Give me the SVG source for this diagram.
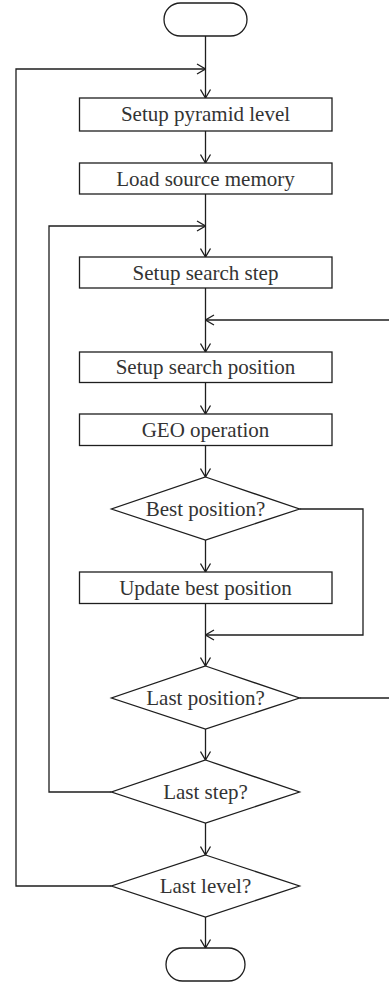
<svg xmlns="http://www.w3.org/2000/svg" width="389" height="984" viewBox="0 0 389 984">
  <style>
    .shape { fill: #fff; stroke: #1e1e1e; stroke-width: 1.3; }
    .wire { fill: none; stroke: #1e1e1e; stroke-width: 1.3; }
    .label { font-family: "Liberation Serif", "Times New Roman", serif; font-size: 21px; fill: #333; text-anchor: middle; }
  </style>
  <defs>
    <marker id="arrow" markerUnits="userSpaceOnUse" markerWidth="10" markerHeight="12" viewBox="0 0 10 12" refX="9.5" refY="6" orient="auto">
      <path d="M1,1 L9.5,6 L1,11" fill="none" stroke="#1e1e1e" stroke-width="1.3"/>
    </marker>
  </defs>
  <rect width="389" height="984" fill="#fff"/>

  <g id="connectors">
    <path class="wire" d="M205.5,36 V98" marker-end="url(#arrow)"/>
    <path class="wire" d="M111.5,886 H16 V69 H205.5" marker-end="url(#arrow)"/>
    <path class="wire" d="M205.5,131 V163" marker-end="url(#arrow)"/>
    <path class="wire" d="M205.5,194 V257" marker-end="url(#arrow)"/>
    <path class="wire" d="M111.5,792 H49 V226 H205.5" marker-end="url(#arrow)"/>
    <path class="wire" d="M205.5,288 V352" marker-end="url(#arrow)"/>
    <path class="wire" d="M390,320 H205.5" marker-end="url(#arrow)"/>
    <path class="wire" d="M299.5,698 H390"/>
    <path class="wire" d="M205.5,382 V414" marker-end="url(#arrow)"/>
    <path class="wire" d="M205.5,446 V477" marker-end="url(#arrow)"/>
    <path class="wire" d="M205.5,540 V572" marker-end="url(#arrow)"/>
    <path class="wire" d="M299.5,509 H363 V635 H205.5" marker-end="url(#arrow)"/>
    <path class="wire" d="M205.5,603 V666" marker-end="url(#arrow)"/>
    <path class="wire" d="M205.5,729 V760" marker-end="url(#arrow)"/>
    <path class="wire" d="M205.5,823 V855" marker-end="url(#arrow)"/>
    <path class="wire" d="M205.5,917 V948" marker-end="url(#arrow)"/>
  </g>

  <g id="start">
    <rect class="shape" x="164" y="3" width="83" height="33" rx="16.5"/>
  </g>
  <g id="setup-pyramid-level">
    <rect class="shape" x="79.5" y="98" width="252.5" height="33"/>
    <text class="label" x="205.5" y="121">Setup pyramid level</text>
  </g>
  <g id="load-source-memory">
    <rect class="shape" x="79.5" y="163" width="252.5" height="31"/>
    <text class="label" x="205.5" y="185.5">Load source memory</text>
  </g>
  <g id="setup-search-step">
    <rect class="shape" x="79.5" y="257" width="252.5" height="31"/>
    <text class="label" x="205.5" y="279.5">Setup search step</text>
  </g>
  <g id="setup-search-position">
    <rect class="shape" x="79.5" y="352" width="252.5" height="30.5"/>
    <text class="label" x="205.5" y="374">Setup search position</text>
  </g>
  <g id="geo-operation">
    <rect class="shape" x="79.5" y="414" width="252.5" height="31.5"/>
    <text class="label" x="205.5" y="436.5">GEO operation</text>
  </g>
  <g id="best-position">
    <polygon class="shape" points="205.5,477 299.5,509 205.5,540 111.5,509"/>
    <text class="label" x="205.5" y="516">Best position?</text>
  </g>
  <g id="update-best-position">
    <rect class="shape" x="79.5" y="572" width="252.5" height="31.5"/>
    <text class="label" x="205.5" y="594.5">Update best position</text>
  </g>
  <g id="last-position">
    <polygon class="shape" points="205.5,666 299.5,698 205.5,729 111.5,698"/>
    <text class="label" x="205.5" y="705">Last position?</text>
  </g>
  <g id="last-step">
    <polygon class="shape" points="205.5,760 299.5,792 205.5,823 111.5,792"/>
    <text class="label" x="205.5" y="799">Last step?</text>
  </g>
  <g id="last-level">
    <polygon class="shape" points="205.5,855 299.5,886 205.5,917 111.5,886"/>
    <text class="label" x="205.5" y="893">Last level?</text>
  </g>
  <g id="end">
    <rect class="shape" x="166" y="948" width="79" height="33" rx="16.5"/>
  </g>
</svg>
